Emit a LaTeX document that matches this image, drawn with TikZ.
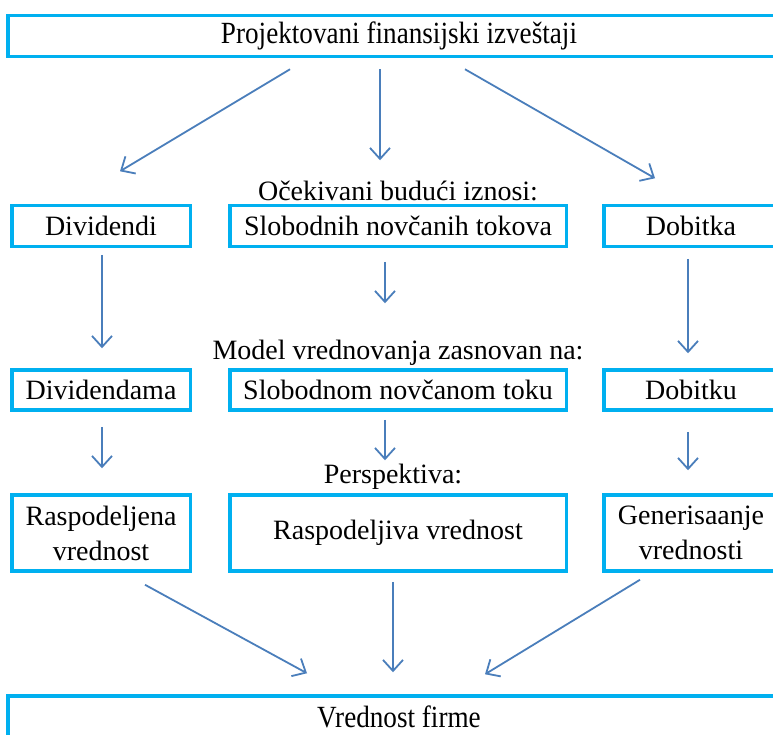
\documentclass[tikz,border=0pt]{standalone}
\usepackage{fontspec}
\setmainfont{Liberation Serif}
\usetikzlibrary{arrows.meta,calc}
\definecolor{boxcyan}{HTML}{00B0F0}
\definecolor{arrblue}{HTML}{4A7EBB}
\begin{document}
\begin{tikzpicture}[x=1pt,y=-1pt,
  box/.style={draw=boxcyan, line width=3.5pt, rectangle, inner sep=0pt, font=\fontsize{28}{30}\selectfont, align=center},
  tallbox/.style={box, font=\fontsize{28}{35}\selectfont},
  lbl/.style={inner sep=0pt, font=\fontsize{28}{30}\selectfont},
  arr/.style={draw=arrblue, line width=1.8pt, -{Straight Barb[length=11pt,width=20pt]}}]
\useasboundingbox (0,0) rectangle (773,734);
\clip (0,0) rectangle (773,734);
% top
\node[box, minimum width=782pt, minimum height=41pt] (top) at (399,36) {\scalebox{0.97}[1.1]{Projektovani finansijski izveštaji}};
% row 1
\node[box, minimum width=178.5pt, minimum height=41pt] (div) at (101,226) {Dividendi};
\node[box, minimum width=336.5pt, minimum height=41pt] (sft) at (398,226) {Slobodnih novčanih tokova};
\node[box, minimum width=174pt, minimum height=41pt] (dob) at (691,226) {Dobitka};
% labels
\node[lbl, anchor=base] (l1) at (398,200) {Očekivani budući iznosi:};
\node[lbl, anchor=base] (l2) at (398,359) {Model vrednovanja zasnovan na:};
\node[lbl, anchor=base] (l3) at (393,483) {Perspektiva:};
% row 2
\node[box, minimum width=178.5pt, minimum height=40pt] (div2) at (101,390) {Dividendama};
\node[box, minimum width=336.5pt, minimum height=40pt] (sft2) at (398,390) {Slobodnom novčanom toku};
\node[box, minimum width=174pt, minimum height=40pt] (dob2) at (691,390) {Dobitku};
% row 3
\node[tallbox, minimum width=178.5pt, minimum height=76pt] (rd) at (101,533) {Raspodeljena\\vrednost};
\node[box, minimum width=336.5pt, minimum height=76pt] (rv) at (398,533) {Raspodeljiva vrednost};
\node[tallbox, minimum width=174pt, minimum height=76pt] (gv) at (691,533) {Generisaanje\\vrednosti};
% bottom
\node[box, minimum width=782pt, minimum height=42pt] (vf) at (399,717) {\scalebox{0.97}[1.1]{Vrednost firme}};
% arrows
\draw[arr] ($(top.south)+(-109,11)$) -- ($(div.north)+(19,-32.5)$);
\draw[arr] ($(top.south)+(-19,11)$) -- ($(sft.north)+(-18,-43.5)$);
\draw[arr] ($(top.south)+(66,11)$) -- ($(dob.north)+(-36,-25.5)$);
\draw[arr] ($(div.south)+(1,6.5)$) -- ($(div2.north)+(1,-20)$);
\draw[arr] ($(sft.south)+(-13,13.5)$) -- ($(sft2.north)+(-13,-65)$);
\draw[arr] ($(dob.south)+(-3,10.5)$) -- ($(dob2.north)+(-3,-15)$);
\draw[arr] ($(div2.south)+(1,15)$) -- ($(rd.north)+(1,-25)$);
\draw[arr] ($(sft2.south)+(-13,8)$) -- ($(rv.north)+(-13,-33)$);
\draw[arr] ($(dob2.south)+(-3,20)$) -- ($(gv.north)+(-3,-23)$);
\draw[arr] ($(rd.south)+(44,12)$) -- ($(vf.north)+(-92,-21)$);
\draw[arr] ($(rv.south)+(-5,9)$) -- ($(vf.north)+(-6,-22)$);
\draw[arr] ($(gv.south)+(-51,7)$) -- ($(vf.north)+(86,-20)$);
\end{tikzpicture}
\end{document}
